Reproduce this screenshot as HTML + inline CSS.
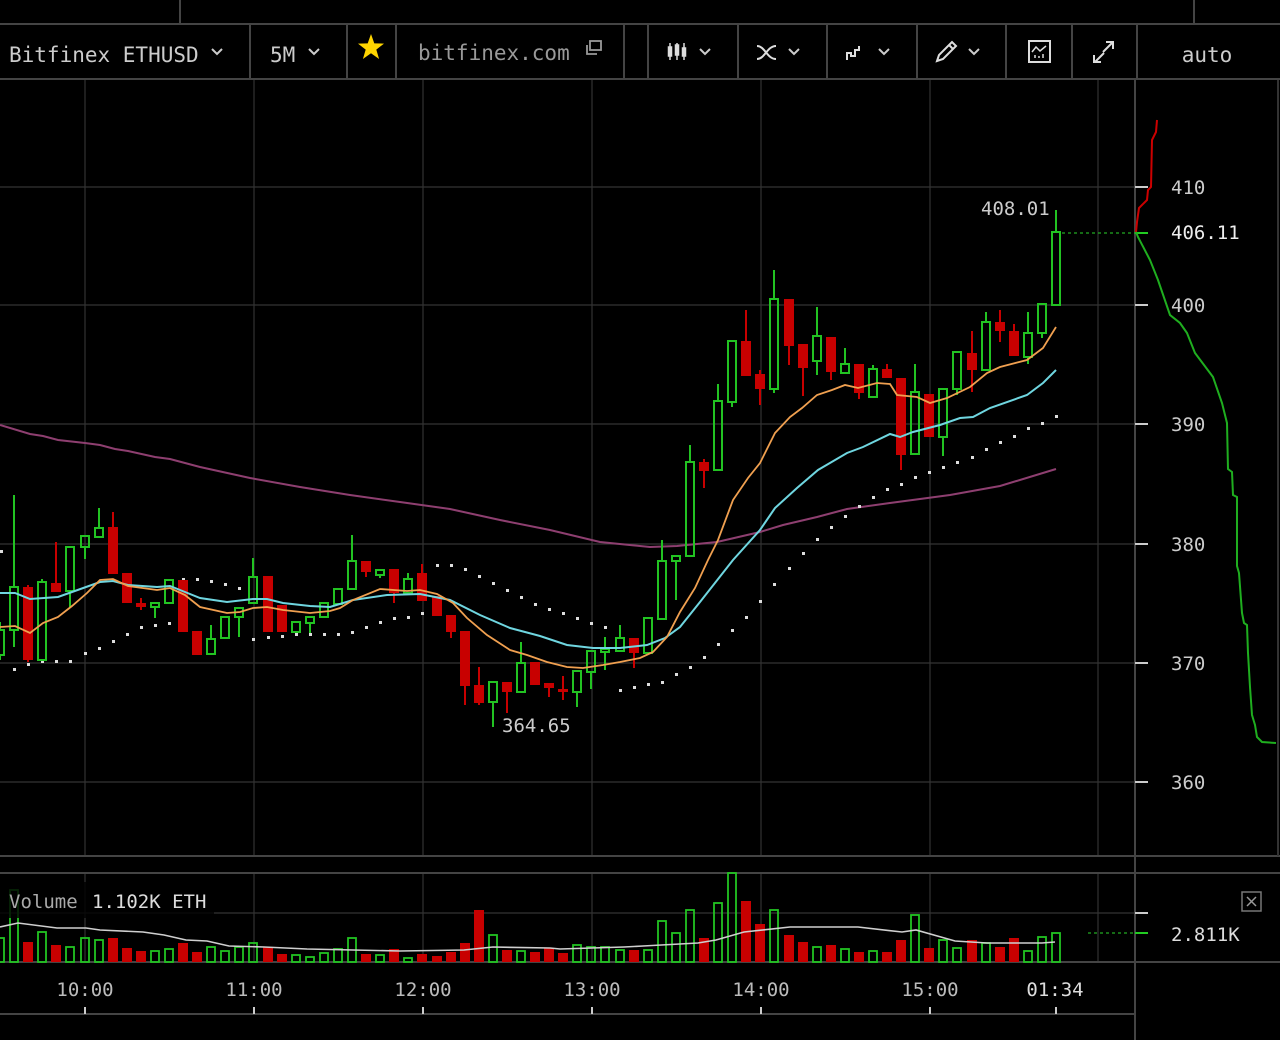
<!DOCTYPE html>
<html><head><meta charset="utf-8"><style>
html,body{margin:0;padding:0;background:#000;}
svg{display:block;}
text{font-family:"DejaVu Sans Mono","Liberation Mono",monospace;}
</style></head><body>
<svg width="1280" height="1040" viewBox="0 0 1280 1040" xmlns="http://www.w3.org/2000/svg">
<rect width="1280" height="1040" fill="#000"/>
<!-- top band & toolbar -->
<g stroke="#444" stroke-width="2" fill="none">
<path d="M180 0V24 M1194 0V24"/>
<path d="M0 24H1280 M0 79H1280"/>
<path d="M250 24V79 M347 24V79 M396 24V79 M624 24V79 M648 24V79 M738 24V79 M827 24V79 M917 24V79 M1006 24V79 M1072 24V79 M1137 24V79"/>
</g>
<text x="9" y="62" font-size="21" fill="#ccc">Bitfinex ETHUSD</text>
<text x="270" y="62" font-size="21" fill="#ccc">5M</text>
<text x="418" y="60" font-size="21" fill="#999">bitfinex.com</text>
<text x="1207" y="62" font-size="21" fill="#ccc" text-anchor="middle">auto</text>
<g stroke="#ccc" stroke-width="2" fill="none">
<polyline points="212,49 217,54 222,49"/>
<polyline points="309,49 314,54 319,49"/>
<polyline points="700,49 705,54 710,49"/>
<polyline points="789,49 794,54 799,49"/>
<polyline points="879,49 884,54 889,49"/>
<polyline points="969,49 974,54 979,49"/>
</g>
<polygon points="371,34 374.3,43.4 384,43.6 376.3,49.6 379.1,59 371,53.3 362.9,59 365.7,49.6 358,43.6 367.7,43.4" fill="#ffd500"/>
<!-- copy icon -->
<g stroke="#999" stroke-width="1.8" fill="none">
<rect x="590" y="41" width="11" height="9"/>
<path d="M587 45V54H597"/>
</g>
<!-- candle icon -->
<g fill="#ddd" stroke="#ddd" stroke-width="1.5">
<path d="M670 43V60 M677 43V60 M684 43V60"/>
<rect x="668.5" y="47" width="3" height="9"/>
<rect x="675.5" y="45" width="3" height="10"/>
<rect x="682.5" y="48" width="3" height="8"/>
</g>
<g stroke="#ddd" stroke-width="2" fill="none">
<path d="M757 46 C765 46 767 59 776 59 M757 59 C765 59 767 46 776 46"/>
<path d="M847 60V53H851V56H855V50H859V46"/>
<path d="M937 61 L939 55 L952 42 L956 46 L943 59 Z M949 45 L953 49"/>
<rect x="1029" y="41" width="21" height="21"/>
<polyline points="1032,52 1036,47 1040,51 1046,46" stroke-width="1.5"/>
<path d="M1035 58V55 M1039 58V56 M1043 58V54" stroke-width="1.5"/>
<path d="M1103 52 L1112 43 M1106 42H1113V49 M1104 53 L1095 62 M1094 55V62H1101"/>
</g>

<!-- price grid -->
<g stroke="#333" stroke-width="1.2">
<path d="M0 187H1135 M0 305H1135 M0 424H1135 M0 544H1135 M0 663H1135 M0 782H1135"/>
<path d="M85 80V856 M254 80V856 M423 80V856 M592 80V856 M761 80V856 M930 80V856 M1098 80V856"/>
<path d="M85 873V962 M254 873V962 M423 873V962 M592 873V962 M761 873V962 M930 873V962 M1098 873V962"/>
<path d="M0 913H1135"/>
</g>
<g stroke="#444" stroke-width="2">
<path d="M0 856H1280 M0 873H1280 M0 962H1280 M0 1014H1135"/>
<path d="M1135 80V1040"/>
<path d="M1278 80V856" stroke="#333"/>
</g>
<!-- right axis ticks -->
<g stroke="#ccc" stroke-width="2">
<path d="M1135 187H1148 M1135 305H1148 M1135 424H1148 M1135 544H1148 M1135 663H1148 M1135 782H1148 M1135 913H1148"/>
<path d="M85 1007V1014 M254 1007V1014 M423 1007V1014 M592 1007V1014 M761 1007V1014 M930 1007V1014 M1056 1007V1014"/>
</g>
<g font-size="19" fill="#ccc">
<text x="1171" y="194">410</text>
<text x="1171" y="312">400</text>
<text x="1171" y="431">390</text>
<text x="1171" y="551">380</text>
<text x="1171" y="670">370</text>
<text x="1171" y="789">360</text>
<text x="1171" y="239" fill="#eee">406.11</text>
<text x="981" y="215">408.01</text>
<text x="502" y="732">364.65</text>
<text x="1171" y="941" fill="#ddd">2.811K</text>
</g>
<g font-size="19" fill="#bbb" text-anchor="middle">
<text x="85" y="996">10:00</text>
<text x="254" y="996">11:00</text>
<text x="423" y="996">12:00</text>
<text x="592" y="996">13:00</text>
<text x="761" y="996">14:00</text>
<text x="930" y="996">15:00</text>
<text x="1055" y="996" fill="#ddd">01:34</text>
</g>
<!-- last price dashed lines -->
<path d="M1062 233H1135" stroke="#2a2" stroke-width="1.3" stroke-dasharray="3,3"/>
<path d="M1135 233H1148" stroke="#2c2" stroke-width="2"/>
<path d="M1088 933H1135" stroke="#2a2" stroke-width="1.3" stroke-dasharray="3,3"/>
<path d="M1135 933H1148" stroke="#2c2" stroke-width="2"/>

<!-- depth -->
<polyline fill="none" stroke="#c00" stroke-width="2" points="1157,120 1156,132 1152,140 1151,187 1148,190 1147,200 1139,208 1137,222 1136,232"/>
<polyline fill="none" stroke="#1fae1f" stroke-width="2" points="1136,232 1138,237 1150,260 1158,280 1170,315 1180,323 1187,333 1195,353 1213,377 1222,403 1227,423 1228,469 1232,472 1233,495 1237,497 1237,566 1239,573 1242,613 1244,623 1247,625 1248,653 1250,687 1252,715 1255,725 1257,737 1262,742 1276,743"/>

<!-- purple MA -->
<polyline fill="none" stroke="#8e3f70" stroke-width="2" points="0,425 30,434 43,436 58,440 85,443 100,445 115,449 128,451 155,457 170,459 200,467 250,478 300,487 350,495 400,502 450,509 500,520 550,530 600,542 650,547 677,546 717,542 760,532 783,525 817,517 847,509 890,503 950,495 1000,486 1056,469"/>

<!-- SAR dots -->
<g fill="#ddd">
<rect x="0" y="550" width="3" height="3"/><rect x="13" y="668" width="3" height="3"/><rect x="27" y="663" width="3" height="3"/><rect x="41" y="660" width="3" height="3"/><rect x="55" y="660" width="3" height="3"/><rect x="69" y="660" width="3" height="3"/><rect x="84" y="652" width="3" height="3"/><rect x="98" y="647" width="3" height="3"/><rect x="112" y="640" width="3" height="3"/><rect x="126" y="633" width="3" height="3"/><rect x="140" y="626" width="3" height="3"/><rect x="154" y="624" width="3" height="3"/><rect x="168" y="622" width="3" height="3"/><rect x="182" y="578" width="3" height="3"/><rect x="196" y="578" width="3" height="3"/><rect x="210" y="580" width="3" height="3"/><rect x="224" y="583" width="3" height="3"/><rect x="238" y="587" width="3" height="3"/><rect x="252" y="638" width="3" height="3"/><rect x="267" y="636" width="3" height="3"/><rect x="281" y="635" width="3" height="3"/><rect x="295" y="633" width="3" height="3"/><rect x="309" y="633" width="3" height="3"/><rect x="323" y="633" width="3" height="3"/><rect x="337" y="633" width="3" height="3"/><rect x="351" y="631" width="3" height="3"/><rect x="365" y="626" width="3" height="3"/><rect x="379" y="621" width="3" height="3"/><rect x="393" y="617" width="3" height="3"/><rect x="407" y="616" width="3" height="3"/><rect x="421" y="612" width="3" height="3"/><rect x="436" y="564" width="3" height="3"/><rect x="450" y="564" width="3" height="3"/><rect x="464" y="568" width="3" height="3"/><rect x="478" y="575" width="3" height="3"/><rect x="492" y="582" width="3" height="3"/><rect x="506" y="589" width="3" height="3"/><rect x="520" y="596" width="3" height="3"/><rect x="534" y="603" width="3" height="3"/><rect x="548" y="608" width="3" height="3"/><rect x="562" y="612" width="3" height="3"/><rect x="576" y="617" width="3" height="3"/><rect x="590" y="622" width="3" height="3"/><rect x="604" y="626" width="3" height="3"/><rect x="619" y="689" width="3" height="3"/><rect x="633" y="686" width="3" height="3"/><rect x="647" y="683" width="3" height="3"/><rect x="661" y="681" width="3" height="3"/><rect x="675" y="673" width="3" height="3"/><rect x="689" y="666" width="3" height="3"/><rect x="703" y="656" width="3" height="3"/><rect x="717" y="643" width="3" height="3"/><rect x="731" y="629" width="3" height="3"/><rect x="745" y="616" width="3" height="3"/><rect x="759" y="600" width="3" height="3"/><rect x="773" y="583" width="3" height="3"/><rect x="788" y="567" width="3" height="3"/><rect x="802" y="552" width="3" height="3"/><rect x="816" y="538" width="3" height="3"/><rect x="830" y="526" width="3" height="3"/><rect x="844" y="515" width="3" height="3"/><rect x="858" y="505" width="3" height="3"/><rect x="872" y="496" width="3" height="3"/><rect x="886" y="488" width="3" height="3"/><rect x="900" y="483" width="3" height="3"/><rect x="914" y="476" width="3" height="3"/><rect x="928" y="471" width="3" height="3"/><rect x="942" y="466" width="3" height="3"/><rect x="956" y="461" width="3" height="3"/><rect x="971" y="456" width="3" height="3"/><rect x="985" y="448" width="3" height="3"/><rect x="999" y="441" width="3" height="3"/><rect x="1013" y="435" width="3" height="3"/><rect x="1027" y="427" width="3" height="3"/><rect x="1041" y="422" width="3" height="3"/><rect x="1055" y="415" width="3" height="3"/>
</g>

<!-- candles: red -->
<path fill="none" stroke="#c80000" stroke-width="2" d="M28 585V662 M56 542V592 M113 512V574 M141 598V610 M366 561V577 M394 569V603 M422 564V601 M451 615V638 M465 631V705 M479 667V705 M507 682V713 M549 683V697 M563 676V700 M634 638V668 M704 459V488 M746 310V376 M760 370V405 M789 299V365 M803 344V396 M831 337V380 M859 364V399 M887 364V378 M901 378V470 M972 331V392 M1000 310V342 M1014 324V356"/>
<g fill="#c80000">
<rect x="23" y="587" width="10" height="73"/><rect x="51" y="583" width="10" height="9"/><rect x="108" y="527" width="10" height="47"/><rect x="122" y="573" width="10" height="30"/><rect x="136" y="603" width="10" height="4"/><rect x="178" y="580" width="10" height="52"/><rect x="192" y="631" width="10" height="24"/><rect x="263" y="576" width="10" height="56"/><rect x="277" y="605" width="10" height="27"/><rect x="361" y="561" width="10" height="11"/><rect x="389" y="569" width="10" height="24"/><rect x="417" y="573" width="10" height="28"/><rect x="432" y="596" width="10" height="20"/><rect x="446" y="615" width="10" height="17"/><rect x="460" y="631" width="10" height="55"/><rect x="474" y="685" width="10" height="18"/><rect x="502" y="682" width="10" height="10"/><rect x="530" y="662" width="10" height="23"/><rect x="544" y="683" width="10" height="5"/><rect x="558" y="689" width="10" height="3"/><rect x="629" y="638" width="10" height="15"/><rect x="699" y="462" width="10" height="9"/><rect x="741" y="341" width="10" height="35"/><rect x="755" y="374" width="10" height="15"/><rect x="784" y="299" width="10" height="47"/><rect x="798" y="344" width="10" height="24"/><rect x="826" y="337" width="10" height="35"/><rect x="854" y="364" width="10" height="29"/><rect x="882" y="369" width="10" height="9"/><rect x="896" y="378" width="10" height="77"/><rect x="924" y="394" width="10" height="43"/><rect x="967" y="353" width="10" height="17"/><rect x="995" y="322" width="10" height="9"/><rect x="1009" y="331" width="10" height="25"/>
</g>
<!-- candles: green -->
<path fill="none" stroke="#22c322" stroke-width="2" d="M0 622V630 M0 655V660 M14 495V587 M14 630V647 M42 579V582 M70 591V607 M85 535V536 M85 547V559 M99 508V528 M155 607V618 M211 625V639 M239 617V637 M253 558V577 M310 623V633 M352 535V561 M380 575V578 M408 573V579 M493 702V727 M521 642V663 M577 692V707 M591 672V689 M605 637V649 M605 652V670 M620 625V638 M662 540V561 M676 561V600 M690 445V462 M718 384V401 M732 402V407 M774 270V299 M774 389V393 M817 307V336 M817 361V375 M845 348V364 M873 365V369 M915 364V392 M943 437V456 M957 389V395 M986 312V322 M1028 312V333 M1028 357V364 M1042 333V338 M1056 210V232"/>
<g fill="none" stroke="#22c322" stroke-width="2">
<rect x="-4" y="630" width="8" height="25"/><rect x="10" y="587" width="8" height="43"/><rect x="38" y="582" width="8" height="78"/><rect x="66" y="547" width="8" height="44"/><rect x="81" y="536" width="8" height="11"/><rect x="95" y="528" width="8" height="9"/><rect x="151" y="603" width="8" height="4"/><rect x="165" y="580" width="8" height="23"/><rect x="207" y="639" width="8" height="15"/><rect x="221" y="617" width="8" height="21"/><rect x="235" y="608" width="8" height="9"/><rect x="249" y="577" width="8" height="26"/><rect x="292" y="622" width="8" height="10"/><rect x="306" y="617" width="8" height="6"/><rect x="320" y="603" width="8" height="14"/><rect x="334" y="589" width="8" height="15"/><rect x="348" y="561" width="8" height="28"/><rect x="376" y="570" width="8" height="5"/><rect x="404" y="579" width="8" height="14"/><rect x="489" y="682" width="8" height="20"/><rect x="517" y="663" width="8" height="29"/><rect x="573" y="671" width="8" height="21"/><rect x="587" y="651" width="8" height="21"/><rect x="601" y="649" width="8" height="3"/><rect x="616" y="638" width="8" height="13"/><rect x="644" y="618" width="8" height="35"/><rect x="658" y="561" width="8" height="58"/><rect x="672" y="556" width="8" height="5"/><rect x="686" y="462" width="8" height="94"/><rect x="714" y="401" width="8" height="69"/><rect x="728" y="341" width="8" height="61"/><rect x="770" y="299" width="8" height="90"/><rect x="813" y="336" width="8" height="25"/><rect x="841" y="364" width="8" height="9"/><rect x="869" y="369" width="8" height="28"/><rect x="911" y="392" width="8" height="62"/><rect x="939" y="389" width="8" height="48"/><rect x="953" y="352" width="8" height="37"/><rect x="982" y="322" width="8" height="48"/><rect x="1024" y="333" width="8" height="24"/><rect x="1038" y="304" width="8" height="29"/><rect x="1052" y="232" width="8" height="73"/>
</g>

<!-- EMA lines -->
<polyline fill="none" stroke="#6fd6e0" stroke-width="2" points="0,593 15,593 30,599 58,597 72,592 100,582 113,581 128,585 157,587 170,586 185,592 200,598 227,602 253,599 267,599 283,603 310,606 330,607 353,600 387,595 420,594 450,600 480,615 510,628 540,636 567,645 593,648 620,648 647,645 665,638 680,627 700,602 733,560 760,530 775,508 797,488 818,470 847,453 863,447 890,434 900,437 913,432 940,425 960,418 973,417 990,408 1027,395 1043,383 1056,370"/>
<polyline fill="none" stroke="#f0a050" stroke-width="1.8" points="0,627 15,626 30,633 43,623 58,617 72,606 87,593 100,580 113,579 128,586 157,590 170,588 185,595 200,607 227,613 240,612 253,608 267,607 283,610 310,613 330,611 340,608 353,600 380,589 407,591 420,590 437,594 453,603 467,618 487,635 510,650 527,655 547,662 567,667 583,668 603,665 620,662 640,658 653,652 667,637 680,612 695,588 708,560 718,540 733,500 748,478 760,463 775,433 790,417 802,408 817,395 832,390 845,385 858,388 877,383 890,384 897,395 917,397 930,403 947,398 970,387 987,373 1000,367 1027,360 1043,348 1056,327"/>

<!-- volume bars -->
<g fill="#c80000">
<rect x="23" y="942" width="10" height="20"/><rect x="51" y="945" width="10" height="17"/><rect x="108" y="938" width="10" height="24"/><rect x="122" y="948" width="10" height="14"/><rect x="136" y="951" width="10" height="11"/><rect x="178" y="943" width="10" height="19"/><rect x="192" y="952" width="10" height="10"/><rect x="263" y="947" width="10" height="15"/><rect x="277" y="954" width="10" height="8"/><rect x="361" y="954" width="10" height="8"/><rect x="389" y="949" width="10" height="13"/><rect x="417" y="954" width="10" height="8"/><rect x="432" y="956" width="10" height="6"/><rect x="446" y="952" width="10" height="10"/><rect x="460" y="943" width="10" height="19"/><rect x="474" y="910" width="10" height="52"/><rect x="502" y="950" width="10" height="12"/><rect x="530" y="952" width="10" height="10"/><rect x="544" y="948" width="10" height="14"/><rect x="558" y="953" width="10" height="9"/><rect x="629" y="950" width="10" height="12"/><rect x="699" y="938" width="10" height="24"/><rect x="741" y="901" width="10" height="61"/><rect x="755" y="924" width="10" height="38"/><rect x="784" y="935" width="10" height="27"/><rect x="798" y="942" width="10" height="20"/><rect x="826" y="945" width="10" height="17"/><rect x="854" y="952" width="10" height="10"/><rect x="882" y="952" width="10" height="10"/><rect x="896" y="940" width="10" height="22"/><rect x="924" y="948" width="10" height="14"/><rect x="967" y="940" width="10" height="22"/><rect x="995" y="947" width="10" height="15"/><rect x="1009" y="938" width="10" height="24"/>
</g>
<g fill="none" stroke="#22c322" stroke-width="1.8">
<rect x="-4" y="938" width="8" height="24"/><rect x="10" y="890" width="8" height="72"/><rect x="38" y="932" width="8" height="30"/><rect x="66" y="947" width="8" height="15"/><rect x="81" y="938" width="8" height="24"/><rect x="95" y="940" width="8" height="22"/><rect x="151" y="951" width="8" height="11"/><rect x="165" y="949" width="8" height="13"/><rect x="207" y="947" width="8" height="15"/><rect x="221" y="951" width="8" height="11"/><rect x="235" y="947" width="8" height="15"/><rect x="249" y="943" width="8" height="19"/><rect x="292" y="955" width="8" height="7"/><rect x="306" y="957" width="8" height="5"/><rect x="320" y="953" width="8" height="9"/><rect x="334" y="949" width="8" height="13"/><rect x="348" y="938" width="8" height="24"/><rect x="376" y="955" width="8" height="7"/><rect x="404" y="958" width="8" height="4"/><rect x="489" y="935" width="8" height="27"/><rect x="517" y="951" width="8" height="11"/><rect x="573" y="945" width="8" height="17"/><rect x="587" y="947" width="8" height="15"/><rect x="601" y="947" width="8" height="15"/><rect x="616" y="950" width="8" height="12"/><rect x="644" y="950" width="8" height="12"/><rect x="658" y="921" width="8" height="41"/><rect x="672" y="933" width="8" height="29"/><rect x="686" y="910" width="8" height="52"/><rect x="714" y="903" width="8" height="59"/><rect x="728" y="873" width="8" height="89"/><rect x="770" y="910" width="8" height="52"/><rect x="813" y="947" width="8" height="15"/><rect x="841" y="949" width="8" height="13"/><rect x="869" y="951" width="8" height="11"/><rect x="911" y="915" width="8" height="47"/><rect x="939" y="940" width="8" height="22"/><rect x="953" y="948" width="8" height="14"/><rect x="982" y="943" width="8" height="19"/><rect x="1024" y="951" width="8" height="11"/><rect x="1038" y="937" width="8" height="25"/><rect x="1052" y="933" width="8" height="29"/>
</g>
<polyline fill="none" stroke="#cfcfcf" stroke-width="1.6" points="0,927 18,923 57,928 86,928 100,930 143,932 164,935 186,940 207,941 229,946 264,947 307,949 400,951 464,950 493,947 550,948 560,949 624,947 643,946 698,943 716,940 744,932 790,927 858,927 902,932 916,930 955,941 987,943 1042,943 1055,942"/>
<!-- volume label -->
<rect x="0" y="882" width="214" height="36" fill="#000" fill-opacity="0.82"/>
<text x="9" y="908" font-size="19" fill="#aaa">Volume</text>
<text x="92" y="908" font-size="19" fill="#ddd">1.102K ETH</text>
<rect x="1242" y="892" width="19" height="19" fill="none" stroke="#777" stroke-width="1.5"/>
<path d="M1247 897L1256 906M1256 897L1247 906" stroke="#999" stroke-width="1.5"/>
</svg>
</body></html>
